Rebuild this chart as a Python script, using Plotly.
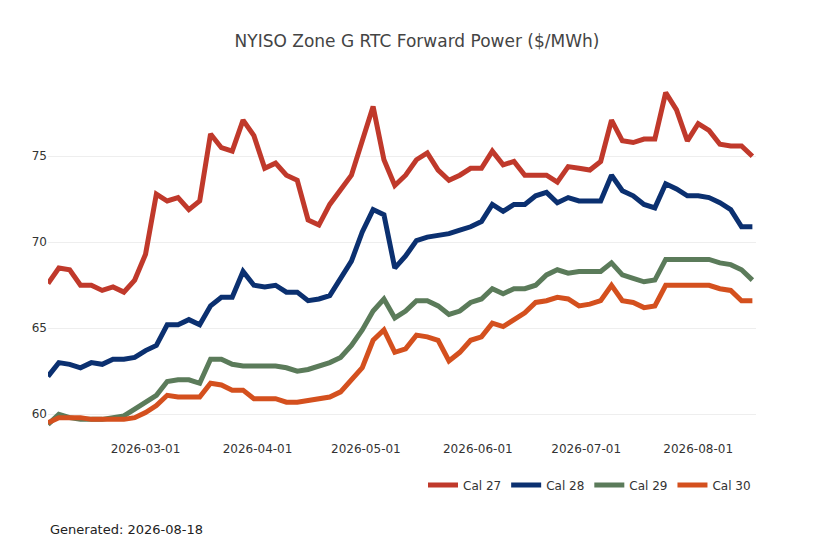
import pandas as pd
import plotly.graph_objects as go

dates = pd.date_range("2026-02-02", "2026-08-16", freq="3D")

cal27 = [67.6, 68.5, 68.4, 67.5, 67.5, 67.2, 67.4, 67.1, 67.8, 69.3, 72.8, 72.4, 72.6, 71.9,
         72.4, 76.3, 75.5, 75.3, 77.1, 76.2, 74.3, 74.6, 73.9, 73.6, 71.3, 71.0, 72.2, 73.0,
         73.9, 75.9, 77.9, 74.8, 73.3, 73.9, 74.8, 75.2, 74.2, 73.6, 73.9, 74.3, 74.3, 75.3,
         74.5, 74.7, 73.9, 73.9, 73.9, 73.5, 74.4, 74.3, 74.2, 74.7, 77.1, 75.9, 75.8, 76.0,
         76.0, 78.7, 77.7, 75.9, 76.9, 76.5, 75.7, 75.6, 75.6, 75.0]
cal28 = [62.2, 63.0, 62.9, 62.7, 63.0, 62.9, 63.2, 63.2, 63.3, 63.7, 64.0, 65.2, 65.2, 65.5,
         65.2, 66.3, 66.8, 66.8, 68.3, 67.5, 67.4, 67.5, 67.1, 67.1, 66.6, 66.7, 66.9, 67.9,
         68.9, 70.6, 71.9, 71.6, 68.5, 69.2, 70.1, 70.3, 70.4, 70.5, 70.7, 70.9, 71.2, 72.2,
         71.8, 72.2, 72.2, 72.7, 72.9, 72.3, 72.6, 72.4, 72.4, 72.4, 73.9, 73.0, 72.7, 72.2,
         72.0, 73.4, 73.1, 72.7, 72.7, 72.6, 72.3, 71.9, 70.9, 70.9]
cal29 = [59.4, 60.0, 59.8, 59.7, 59.7, 59.7, 59.8, 59.9, 60.3, 60.7, 61.1, 61.9, 62.0, 62.0,
         61.8, 63.2, 63.2, 62.9, 62.8, 62.8, 62.8, 62.8, 62.7, 62.5, 62.6, 62.8, 63.0, 63.3,
         64.0, 64.9, 66.0, 66.7, 65.6, 66.0, 66.6, 66.6, 66.3, 65.8, 66.0, 66.5, 66.7, 67.3,
         67.0, 67.3, 67.3, 67.5, 68.1, 68.4, 68.2, 68.3, 68.3, 68.3, 68.8, 68.1, 67.9, 67.7,
         67.8, 69.0, 69.0, 69.0, 69.0, 69.0, 68.8, 68.7, 68.4, 67.8]
cal30 = [59.5, 59.8, 59.8, 59.8, 59.7, 59.7, 59.7, 59.7, 59.8, 60.1, 60.5, 61.1, 61.0, 61.0,
         61.0, 61.8, 61.7, 61.4, 61.4, 60.9, 60.9, 60.9, 60.7, 60.7, 60.8, 60.9, 61.0, 61.3,
         62.0, 62.7, 64.3, 64.9, 63.6, 63.8, 64.6, 64.5, 64.3, 63.1, 63.6, 64.3, 64.5, 65.3,
         65.1, 65.5, 65.9, 66.5, 66.6, 66.8, 66.7, 66.3, 66.4, 66.6, 67.5, 66.6, 66.5, 66.2,
         66.3, 67.5, 67.5, 67.5, 67.5, 67.5, 67.3, 67.2, 66.6, 66.6]

series = [("Cal 27", cal27, "#C0392B"), ("Cal 28", cal28, "#0B3070"),
          ("Cal 29", cal29, "#5B7B5A"), ("Cal 30", cal30, "#D4501E")]

fig = go.Figure()
for name, vals, color in series:
    fig.add_trace(go.Scatter(x=dates, y=vals, mode="lines", name=name,
                             line=dict(color=color, width=5)))

fig.update_layout(
    width=818, height=545,
    title=dict(text="NYISO Zone G RTC Forward Power ($/MWh)", x=0.5, y=0.95,
               font=dict(size=17, color="#444")),
    font=dict(family="DejaVu Sans", size=12, color="#333"),
    plot_bgcolor="white", paper_bgcolor="white",
    margin=dict(l=40, r=70, t=52, b=113),
    xaxis=dict(showgrid=False, tickformat="%Y-%m-%d", showline=False, zeroline=False,
               range=["2026-02-02", "2026-08-17"]),
    yaxis=dict(showgrid=True, gridcolor="#eeeeee", zeroline=False, range=[58.5, 80.6],
               tickvals=[60, 65, 70, 75]),
    legend=dict(orientation="h", x=1.0, xanchor="right", y=-0.08, yanchor="top",
                font=dict(size=12)),
    annotations=[dict(text="Generated: 2026-08-18", xref="paper", yref="paper",
                      x=0, y=-0.21, xanchor="left", yanchor="top", showarrow=False,
                      font=dict(size=13, color="#222"))],
)
fig.write_html("out.html")
